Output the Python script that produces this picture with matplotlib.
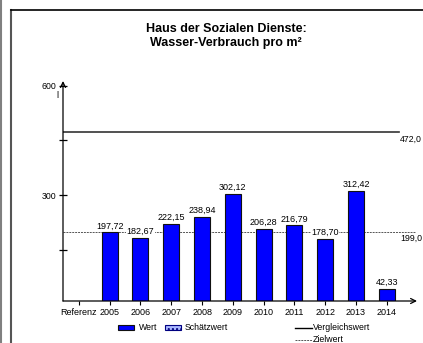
import matplotlib
matplotlib.use('Agg')
import matplotlib.pyplot as plt
from matplotlib.patches import Rectangle
from matplotlib.lines import Line2D

plt.rcParams['font.family'] = ['Liberation Sans', 'DejaVu Sans']

categories = ['Referenz', '2005', '2006', '2007', '2008', '2009', '2010', '2011', '2012', '2013', '2014']
wert = [None, 197.72, 182.67, 222.15, 238.94, 302.12, 206.28, 216.79, 178.70, 312.42, 42.33]
vergleichswert = 472.0
zielwert = 199.0
title = 'Haus der Sozialen Dienste:\nWasser-Verbrauch pro m²'

W, H = 423, 343
fig = plt.figure(figsize=(W / 100, H / 100), dpi=100)

def fx(x):
    return x / W

def fy(y):
    return 1 - y / H

# frame lines around the chart area
fig.add_artist(Line2D([fx(1), fx(1)], [0, 1], color='#808080', lw=1.5))
fig.add_artist(Line2D([fx(11), fx(11)], [0, fy(10)], color='#555555', lw=1.5))
fig.add_artist(Line2D([fx(11), 1], [fy(10), fy(10)], color='black', lw=1.2))

ax = fig.add_axes([fx(63), fy(301), fx(417) - fx(63), (301 - 81) / H])
for s in ax.spines.values():
    s.set_visible(False)

xpos = list(range(len(categories)))
ax.set_xlim(-0.516, 10.98)
ax.set_ylim(9.6, 613)

# reference lines
ax.axhline(vergleichswert, xmin=0, xmax=0.949, color='#333333', lw=1.2, zorder=1)
ax.axhline(zielwert, xmin=0, xmax=0.994, color='#555555', lw=0.7, ls=(0, (2, 1)), zorder=1)
ax.text(0.952, vergleichswert - 6, '472,0', transform=ax.get_yaxis_transform(), fontsize=6.3,
        ha='left', va='top', clip_on=False)
ax.text(0.952, zielwert - 6, '199,0', transform=ax.get_yaxis_transform(), fontsize=6.3,
        ha='left', va='top', clip_on=False)

bx = [p for p, v in zip(xpos, wert) if v is not None]
bv = [v for v in wert if v is not None]
bars = ax.bar(bx, bv, width=0.52, color='#0000ff', edgecolor='#111111', lw=0.8, zorder=2)
for x, v in zip(bx, bv):
    ax.annotate(f'{v:.2f}'.replace('.', ','), (x, v), xytext=(0, 1.5), textcoords='offset points',
                ha='center', va='bottom', fontsize=6.5, zorder=3,
                bbox=dict(boxstyle='square,pad=0.05', fc='white', ec='none'))

# axes with arrows
ax.annotate('', xy=(0, 1.0), xytext=(0, 0), xycoords='axes fraction',
            arrowprops=dict(arrowstyle='->', lw=0.9, color='black', shrinkA=0, shrinkB=0, mutation_scale=9))
ax.annotate('', xy=(1.0, 0), xytext=(0, 0), xycoords='axes fraction',
            arrowprops=dict(arrowstyle='->', lw=0.9, color='black', shrinkA=0, shrinkB=0, mutation_scale=9))

ax.set_yticks([150, 300, 450, 600])
ax.set_yticklabels(['', '300', '', '600'], fontsize=6.3)
ax.tick_params(axis='y', direction='inout', length=6, width=0.9, pad=2)
ax.set_xticks(xpos)
ax.set_xticklabels(categories, fontsize=6.5)
ax.tick_params(axis='x', direction='out', length=3, width=0.8, pad=2)
fig.text(fx(57), fy(95), 'l', fontsize=6.3, ha='center', va='center')

fig.text(fx(226), fy(36), title, fontsize=9, fontweight='bold', ha='center', va='center',
         linespacing=1.15)

# legend
fig.add_artist(Rectangle((fx(118), fy(330)), fx(16), 5 / H, fc='#0000ff', ec='#111111', lw=0.8))
fig.text(fx(139), fy(327), 'Wert', fontsize=6.3, va='center')
fig.add_artist(Rectangle((fx(165), fy(330)), fx(16), 5 / H, fc='#aab8ff', ec='#000080', lw=0.8,
                         hatch='....'))
fig.text(fx(185), fy(327), 'Schätzwert', fontsize=6.3, va='center')
fig.add_artist(Line2D([fx(295), fx(312)], [fy(328), fy(328)], color='black', lw=1))
fig.text(fx(313), fy(327), 'Vergleichswert', fontsize=6.3, va='center')
fig.add_artist(Line2D([fx(295), fx(312)], [fy(340), fy(340)], color='#555555', lw=0.7, ls=(0, (2, 1))))
fig.text(fx(313), fy(339), 'Zielwert', fontsize=6.3, va='center')

fig.savefig('out.png', dpi=100)
